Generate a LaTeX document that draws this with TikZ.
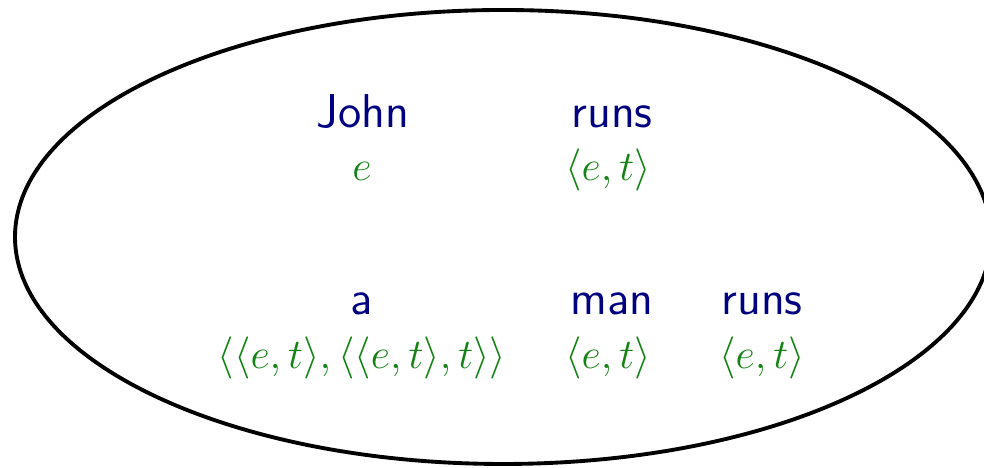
\documentclass[tikz,border=0pt]{standalone}
\usepackage{amsmath,amssymb}
\usepackage{tikz}
\usetikzlibrary{positioning}
\usepackage{xcolor}
\definecolor{wordblue}{RGB}{0,0,128}
\definecolor{typegreen}{RGB}{20,130,20}

\begin{document}
\begin{tikzpicture}[x=0.01cm,y=-0.01cm,
  word/.style={anchor=base,text=wordblue,font=\fontsize{13.5}{16}\sffamily},
  type/.style={anchor=base,text=typegreen,font=\fontsize{13}{16}\selectfont}]
\useasboundingbox (0,0) rectangle (984,468);
\draw[line width=1.1pt] (503,237) ellipse [x radius=488,y radius=227];
% first sentence
\node[word] (john) at (363,128) {John};
\node[word] (runsA) at (612,128) {runs};
\node[type] (johnT) at (362,181) {$e$};
\node[type] (runsAT) at (608,181) {$\langle e,t\rangle$};
% second sentence
\node[word] (a) at (362,315) {a};
\node[word] (man) at (612,315) {man};
\node[word] (runsB) at (762,315) {runs};
\node[type] (aT) at (362,369) {$\langle\langle e,t\rangle,\langle\langle e,t\rangle,t\rangle\rangle$};
\node[type] (manT) at (608,369) {$\langle e,t\rangle$};
\node[type] (runsBT) at (762,369) {$\langle e,t\rangle$};
\end{tikzpicture}
\end{document}
